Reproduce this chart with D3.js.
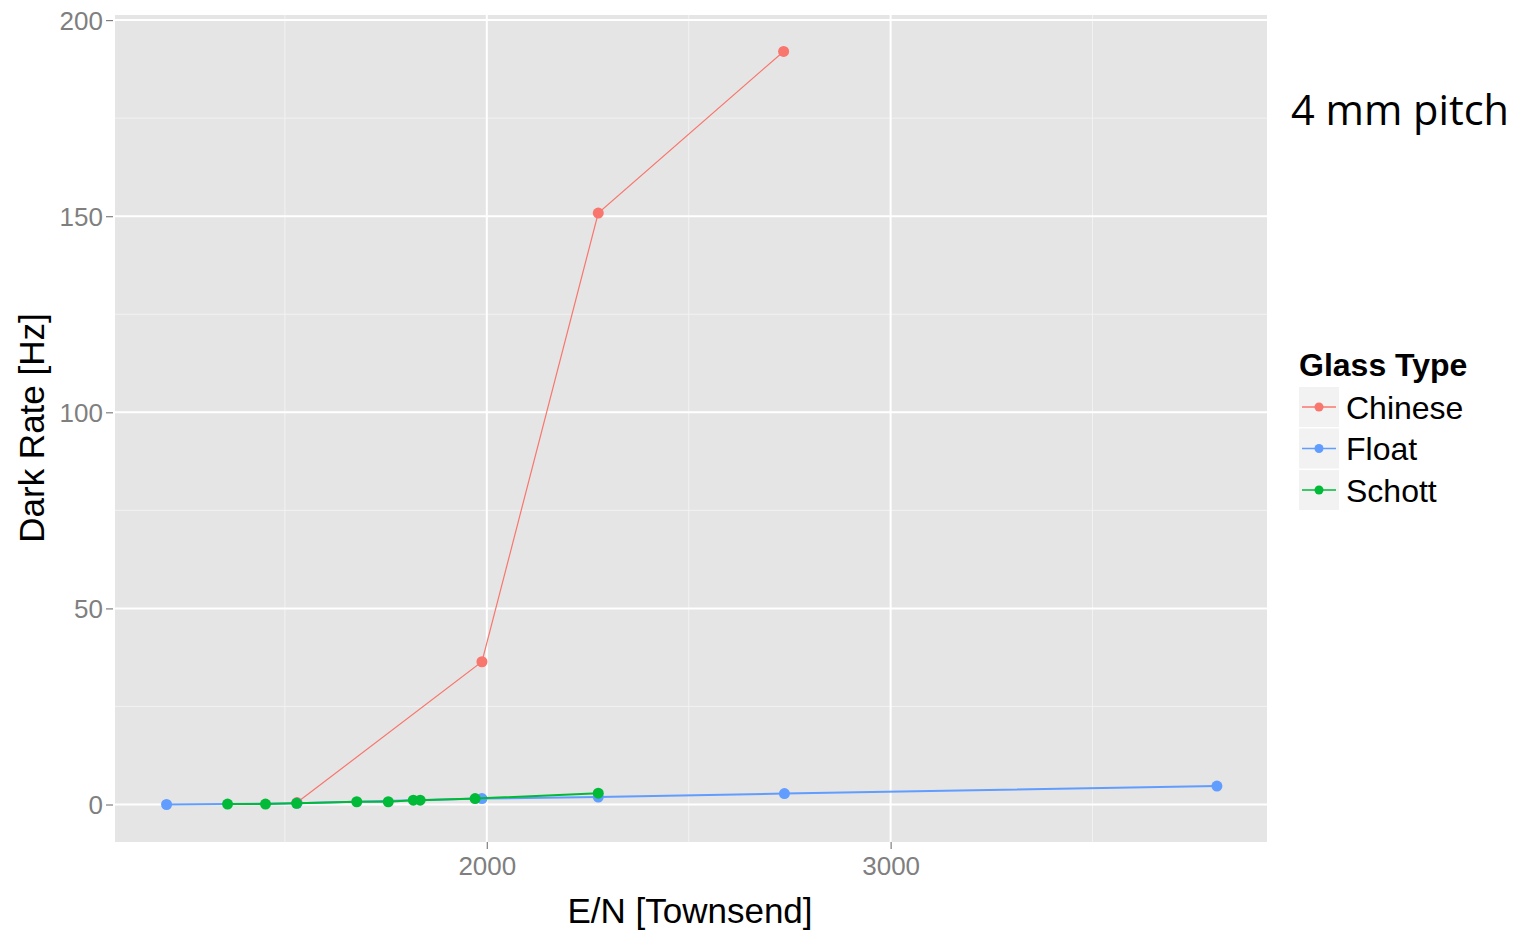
<!DOCTYPE html>
<html><head><meta charset="utf-8">
<script src="https://cdn.jsdelivr.net/npm/d3@7"></script>
<style>body{margin:0;background:#fff;} svg{display:block;}</style>
</head><body>
<svg id="chart" width="1517" height="937"></svg>
<script>
// Data
const seriesNames = ["Chinese", "Float", "Schott"];
const seriesColors = ["#F8766D", "#619CFF", "#00BA38"];
const chineseX = [1530, 1988, 2276, 2735];
const chineseY = [0.5, 36.4, 150.8, 192.0];
const floatX = [1207, 1530, 1988, 2276, 2737, 3808];
const floatY = [0.0, 0.3, 1.5, 1.9, 2.8, 4.7];
const schottX = [1358, 1452, 1529, 1678, 1756, 1818, 1835, 1971, 2276];
const schottY = [0.1, 0.1, 0.3, 0.7, 0.7, 1.1, 1.1, 1.5, 2.9];
const xTicks = [2000, 3000];
const xMinor = [1500, 2500, 3500];
const yTicks = [0, 50, 100, 150, 200];
const yMinor = [25, 75, 125, 175];

const series = [
  {name: seriesNames[0], color: seriesColors[0], xs: chineseX, ys: chineseY},
  {name: seriesNames[1], color: seriesColors[1], xs: floatX, ys: floatY},
  {name: seriesNames[2], color: seriesColors[2], xs: schottX, ys: schottY}
];

const FONT = "Liberation Sans, Arial, sans-serif";
const svg = d3.select("#chart");
const L = 115, R = 1267, T = 15, B = 842;
const x = d3.scaleLinear().domain([1079.3, 3932]).range([L, R]);
const y = d3.scaleLinear().domain([-9.56, 201.3]).range([B, T]);

svg.append("rect").attr("x", L).attr("y", T).attr("width", R - L).attr("height", B - T).attr("fill", "#E5E5E5");

const g = svg.append("g");
g.selectAll(".xmin").data(xMinor).enter().append("line")
  .attr("x1", d => x(d)).attr("x2", d => x(d)).attr("y1", T).attr("y2", B)
  .attr("stroke", "#F2F2F2").attr("stroke-width", 1);
g.selectAll(".ymin").data(yMinor).enter().append("line")
  .attr("y1", d => y(d)).attr("y2", d => y(d)).attr("x1", L).attr("x2", R)
  .attr("stroke", "#F2F2F2").attr("stroke-width", 1);
g.selectAll(".xmaj").data(xTicks).enter().append("line")
  .attr("x1", d => x(d)).attr("x2", d => x(d)).attr("y1", T).attr("y2", B)
  .attr("stroke", "#FFFFFF").attr("stroke-width", 2);
g.selectAll(".ymaj").data(yTicks).enter().append("line")
  .attr("y1", d => y(d)).attr("y2", d => y(d)).attr("x1", L).attr("x2", R)
  .attr("stroke", "#FFFFFF").attr("stroke-width", 2);

// Axes
const xAxis = d3.axisBottom(x).tickValues(xTicks).tickSize(7).tickPadding(8).tickFormat(d3.format("d"));
const yAxis = d3.axisLeft(y).tickValues(yTicks).tickSize(7).tickPadding(3).tickFormat(d3.format("d"));
const gx = svg.append("g").attr("transform", `translate(0,${B})`).call(xAxis);
const gy = svg.append("g").attr("transform", `translate(${L - 2},0)`).call(yAxis);
[gx, gy].forEach(a => {
  a.select(".domain").remove();
  a.selectAll(".tick line").attr("stroke", "#7F7F7F").attr("stroke-width", 1.2);
  a.selectAll(".tick text").attr("fill", "#7F7F7F").style("font-family", FONT).style("font-size", "26px");
});
gy.selectAll(".tick text").attr("dy", "0.36em");

// Lines and points
const line = d3.line().x(d => x(d[0])).y(d => y(d[1]));
series.forEach(s => {
  const pts = s.xs.map((v, i) => [v, s.ys[i]]);
  svg.append("path").datum(pts).attr("d", line).attr("fill", "none")
    .attr("stroke", s.color).attr("stroke-width", s.name === "Chinese" ? 1.2 : 2);
  svg.append("g").selectAll("circle").data(pts).enter().append("circle")
    .attr("cx", d => x(d[0])).attr("cy", d => y(d[1])).attr("r", 5.5).attr("fill", s.color);
});

// Axis titles
svg.append("text").attr("x", 690).attr("y", 923).attr("text-anchor", "middle")
  .style("font-family", FONT).style("font-size", "35px").attr("fill", "#000")
  .text("E/N [Townsend]");
svg.append("text").attr("transform", `translate(44,428) rotate(-90)`).attr("text-anchor", "middle")
  .style("font-family", FONT).style("font-size", "35px").attr("fill", "#000")
  .text("Dark Rate [Hz]");

// Legend
const lg = svg.append("g");
lg.append("text").attr("x", 1299).attr("y", 376)
  .style("font-family", FONT).style("font-size", "32px").style("font-weight", "bold")
  .text("Glass Type");
series.forEach((s, i) => {
  const cy = 407 + i * 41.5;
  lg.append("rect").attr("x", 1299).attr("y", cy - 20).attr("width", 40).attr("height", 40).attr("fill", "#F2F2F2");
  lg.append("line").attr("x1", 1302).attr("x2", 1336).attr("y1", cy).attr("y2", cy).attr("stroke", s.color).attr("stroke-width", 1.5);
  lg.append("circle").attr("cx", 1319).attr("cy", cy).attr("r", 4.5).attr("fill", s.color);
  lg.append("text").attr("x", 1346).attr("y", cy).attr("dy", "0.36em")
    .style("font-family", FONT).style("font-size", "32px").text(s.name);
});

// Annotation
svg.append("text").attr("x", 1291).attr("y", 125)
  .attr("textLength", 218).attr("lengthAdjust", "spacingAndGlyphs")
  .style("font-family", "Open Sans, Noto Sans, sans-serif").style("font-size", "42px").attr("fill", "#000")
  .text("4 mm pitch");
</script>
</body></html>
